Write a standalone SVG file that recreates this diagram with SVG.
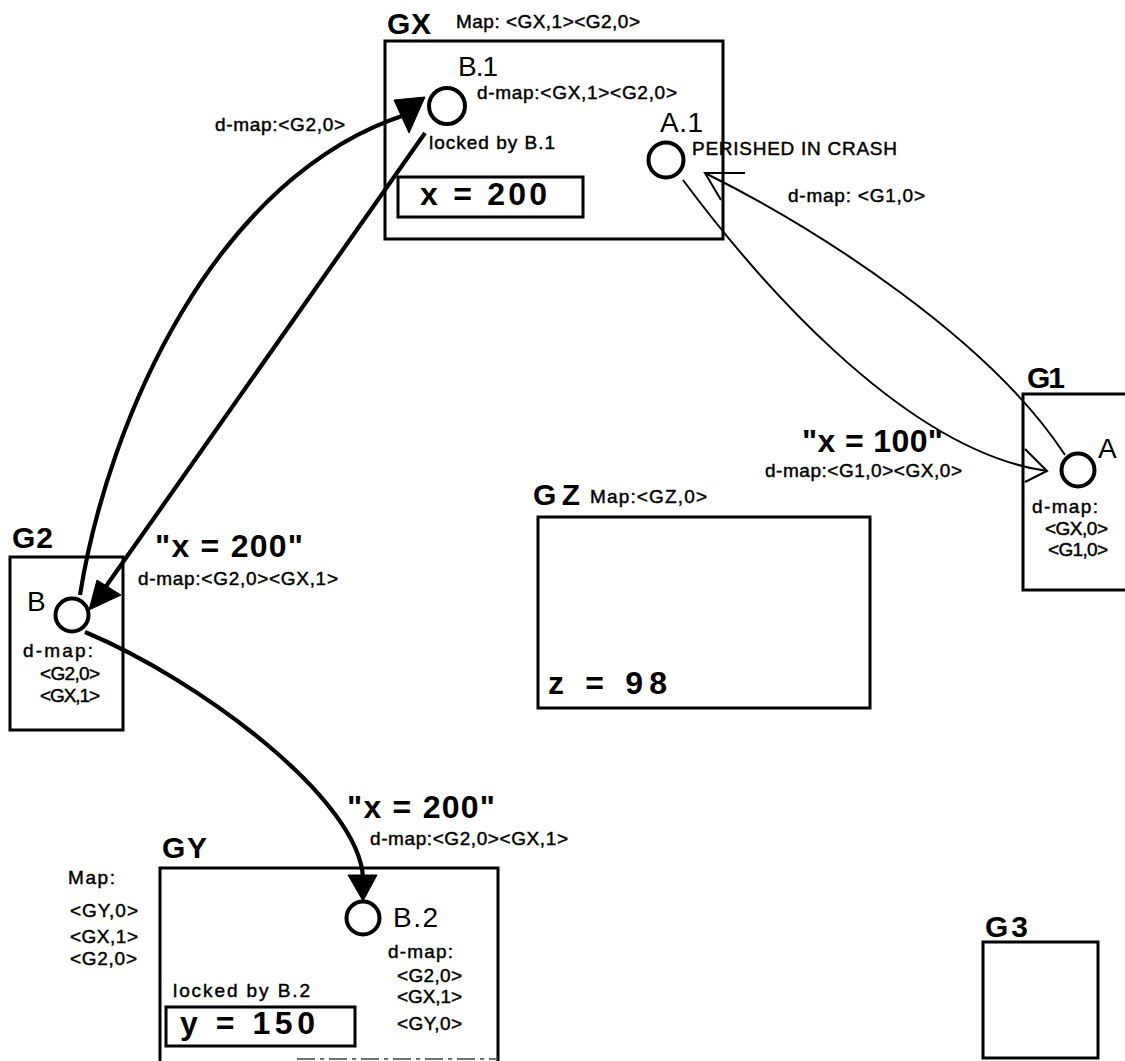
<svg xmlns="http://www.w3.org/2000/svg" width="1125" height="1061" viewBox="0 0 1125 1061">
<style>
  text { font-family: "Liberation Sans", Arial, sans-serif; fill: #000; }
  .s { font-size: 19px; stroke: #000; stroke-width: 0.45; }
  .t { font-size: 30px; font-weight: bold; }
  .v { font-size: 32px; font-weight: bold; }
  .n { font-size: 28px; }
  .box { fill: none; stroke: #000; stroke-width: 3; }
  .thick { fill: none; stroke: #000; stroke-width: 4.2; }
  .thin { fill: none; stroke: #000; stroke-width: 2; }
  .node { fill: #fff; stroke: #000; stroke-width: 4; }
  .head { fill: #000; stroke: #000; stroke-width: 1; stroke-linejoin: round; }
</style>
<rect width="1125" height="1061" fill="#fff"/>

<g id="node-GX">
  <rect class="box" x="385" y="41" width="338" height="198"/>
  <text class="t" x="387" y="34" font-size="31" textLength="44">GX</text>
  <text class="s" x="456" y="28" textLength="184">Map: &lt;GX,1&gt;&lt;G2,0&gt;</text>
  <text class="n" x="458" y="76" font-size="26" textLength="40">B.1</text>
  <text class="s" x="477" y="99" textLength="200">d-map:&lt;GX,1&gt;&lt;G2,0&gt;</text>
  <text class="n" x="660" y="132" font-size="27" textLength="43">A.1</text>
  <text class="s" x="692" y="155" font-size="20" textLength="205">PERISHED IN CRASH</text>
  <text class="s" x="429" y="149" font-size="20" textLength="126">locked by B.1</text>
  <rect class="box" x="398" y="177" width="185" height="40"/>
  <text class="v" x="420" y="205" textLength="127">x = 200</text>
</g>

<g id="node-B1">
  <circle class="node" cx="447" cy="106" r="18"/>
</g>
<g id="node-A1">
  <circle class="node" cx="666" cy="160" r="17.5" stroke-width="2.5"/>
</g>

<g id="node-G1">
  <rect class="box" x="1023" y="394" width="150" height="196"/>
  <text class="t" x="1027" y="388" textLength="38">G1</text>
  <circle class="node" cx="1078" cy="470" r="16.5"/>
  <text class="n" x="1098" y="458" font-size="29" textLength="20">A</text>
  <text class="s" x="1032" y="513" textLength="66">d-map:</text>
  <text class="s" x="1045" y="535" textLength="63">&lt;GX,0&gt;</text>
  <text class="s" x="1048" y="556" textLength="60">&lt;G1,0&gt;</text>
</g>

<g id="node-G2">
  <rect class="box" x="10" y="557" width="113" height="173"/>
  <text class="t" x="12" y="548" textLength="41">G2</text>
  <text class="n" x="27" y="611" font-size="31" textLength="21">B</text>
  <circle class="node" cx="72" cy="615" r="16.5"/>
  <text class="s" x="23" y="657" textLength="70">d-map:</text>
  <text class="s" x="40" y="680" textLength="60">&lt;G2,0&gt;</text>
  <text class="s" x="40" y="702" textLength="60">&lt;GX,1&gt;</text>
</g>

<g id="node-GZ">
  <rect class="box" x="538" y="517" width="332" height="191"/>
  <text class="t" x="533" y="505" font-size="31" textLength="47">GZ</text>
  <text class="s" x="590" y="503" textLength="117">Map:&lt;GZ,0&gt;</text>
  <text class="v" x="548" y="694" textLength="119">z = 98</text>
</g>

<g id="node-GY">
  <path class="box" d="M160,1061 V868 H498 V1061"/>
  <path d="M297,1059 H498" stroke="#444" stroke-width="1.3" stroke-dasharray="18 5 4 5"/>
  <text class="t" x="162" y="858" textLength="45">GY</text>
  <text class="s" x="68" y="884" textLength="47">Map:</text>
  <text class="s" x="70" y="917" textLength="68">&lt;GY,0&gt;</text>
  <text class="s" x="70" y="943" textLength="68">&lt;GX,1&gt;</text>
  <text class="s" x="70" y="965" textLength="67">&lt;G2,0&gt;</text>
  <circle class="node" cx="363" cy="918" r="16.5"/>
  <text class="n" x="393" y="927" font-size="29" textLength="45">B.2</text>
  <text class="s" x="388" y="958" textLength="65">d-map:</text>
  <text class="s" x="397" y="982" textLength="65">&lt;G2,0&gt;</text>
  <text class="s" x="397" y="1003" textLength="65">&lt;GX,1&gt;</text>
  <text class="s" x="397" y="1030" textLength="65">&lt;GY,0&gt;</text>
  <text class="s" x="173" y="997" font-size="20" textLength="137">locked by B.2</text>
  <rect class="box" x="166" y="1007" width="189" height="39"/>
  <text class="v" x="180" y="1034" font-size="31" textLength="135">y = 150</text>
</g>

<g id="node-G3">
  <rect class="box" x="983" y="942" width="115" height="116"/>
  <text class="t" x="985" y="937" textLength="43">G3</text>
</g>

<g id="connectors">
  <!-- A.1 to A (message "x = 100") -->
  <path class="thin" d="M683,180 C750,270 900,450 1047,471"/>
  <polyline class="thin" points="1025,449 1047,471 1025,482"/>
  <!-- A back to A.1 -->
  <path class="thin" d="M1065,455 C990,340 820,230 705,173"/>
  <polyline class="thin" points="745,173 705,173 721,200"/>
  <!-- B to B.1 -->
  <path class="thick" d="M80,595 C108,420 215,175 408,114"/>
  <polygon class="head" points="394,100 425,97 409,133"/>
  <!-- B.1 to B -->
  <path class="thick" d="M425,133 L102,592"/>
  <polygon class="head" points="97,580 121,595 89,610"/>
  <!-- B to B.2 -->
  <path class="thick" d="M85,632 C200,680 360,800 363,878"/>
  <polygon class="head" points="348,875 377,875 363,901"/>
  <!-- labels -->
  <text class="s" x="215" y="131" textLength="130">d-map:&lt;G2,0&gt;</text>
  <text class="s" x="788" y="202" textLength="137">d-map: &lt;G1,0&gt;</text>
  <text class="v" x="802" y="452" font-size="31" textLength="141">"x = 100"</text>
  <text class="s" x="765" y="477" textLength="197">d-map:&lt;G1,0&gt;&lt;GX,0&gt;</text>
  <text class="v" x="155" y="557" font-size="31" textLength="148">"x = 200"</text>
  <text class="s" x="138" y="585" textLength="200">d-map:&lt;G2,0&gt;&lt;GX,1&gt;</text>
  <text class="v" x="347" y="818" font-size="31" textLength="148">"x = 200"</text>
  <text class="s" x="370" y="845" textLength="198">d-map:&lt;G2,0&gt;&lt;GX,1&gt;</text>
</g>
</svg>
